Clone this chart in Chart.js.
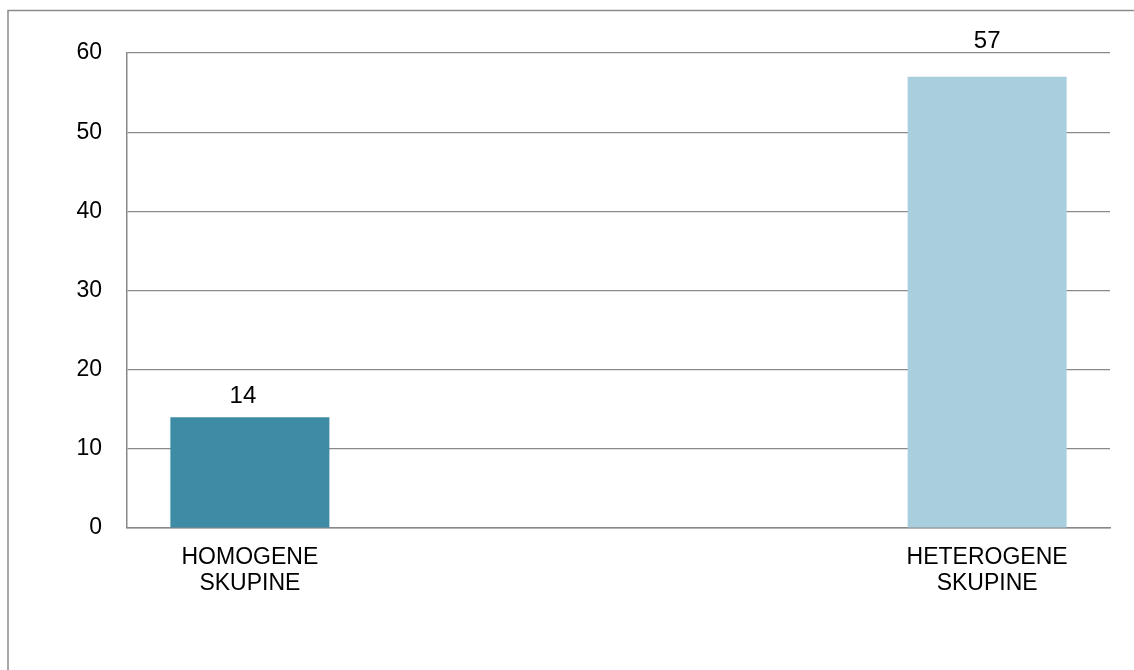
<!DOCTYPE html>
<html>
<head>
<meta charset="utf-8">
<script src="https://cdn.jsdelivr.net/npm/chart.js@4/dist/chart.umd.min.js"></script>
<style>
  html, body { margin: 0; padding: 0; background: #fff; }
  #wrap { width: 1134px; height: 670px; position: relative; }
</style>
</head>
<body>
<div id="wrap"><canvas id="barChart"></canvas></div>
<script>
// categories (two empty slots keep the bars in the 1st and 4th places, like the original)
const categories = [['HOMOGENE', 'SKUPINE'], '', '', ['HETEROGENE', 'SKUPINE']];
const values = [14, null, null, 57];
const barColors = ['#3D8BA4', '#A9CFDE', '#A9CFDE', '#A9CFDE'];
const yTicks = [0, 10, 20, 30, 40, 50, 60];

const FONT = '"Liberation Sans", Arial, sans-serif';

// outer frame (only top and left edge are visible in the picture)
const framePlugin = {
  id: 'frame',
  beforeDraw(chart) {
    const ctx = chart.ctx;
    ctx.save();
    ctx.strokeStyle = '#8c8c8c';
    ctx.lineWidth = 1.5;
    ctx.beginPath();
    ctx.moveTo(8, chart.height);
    ctx.lineTo(8, 10.5);
    ctx.lineTo(chart.width, 10.5);
    ctx.stroke();
    ctx.restore();
  }
};

// value labels above bars
const valueLabels = {
  id: 'valueLabels',
  afterDatasetsDraw(chart, args, opts) {
    const ctx = chart.ctx;
    const meta = chart.getDatasetMeta(0);
    ctx.save();
    ctx.font = '24px ' + FONT;
    ctx.fillStyle = '#000';
    ctx.textAlign = 'center';
    ctx.textBaseline = 'middle';
    meta.data.forEach((bar, i) => {
      const v = values[i];
      if (v === null) return;
      const off = opts.offsets[i] || 24;
      ctx.fillText(String(v), bar.x - (i === 0 ? 7 : 0), bar.y - off);
    });
    ctx.restore();
  }
};

new Chart(document.getElementById('barChart'), {
  type: 'bar',
  data: {
    labels: categories,
    datasets: [{
      data: values,
      backgroundColor: barColors,
      borderWidth: 0,
      barPercentage: 0.647,
      categoryPercentage: 1
    }]
  },
  options: {
    responsive: true,
    maintainAspectRatio: false,
    animation: false,
    layout: { padding: { top: 53, right: 24, left: 0, bottom: 0 } },
    plugins: {
      legend: { display: false },
      tooltip: { enabled: false },
      valueLabels: { offsets: [21, null, null, 35] }
    },
    scales: {
      x: {
        grid: { display: false, drawTicks: false },
        border: { display: true, color: '#888888', width: 1.5 },
        ticks: {
          color: '#000',
          font: { family: FONT, size: 23, lineHeight: 1.13 },
          padding: 17,
          maxRotation: 0,
          autoSkip: false
        },
        afterFit(scale) { scale.height = 142; }
      },
      y: {
        min: 0,
        max: 60,
        afterBuildTicks(scale) { scale.ticks = yTicks.map(v => ({ value: v })); },
        grid: { color: '#8a8a8a', lineWidth: 1.2, drawTicks: false },
        border: { display: true, color: '#888888', width: 1.5 },
        ticks: {
          color: '#000',
          font: { family: FONT, size: 23 },
          padding: 25
        },
        afterFit(scale) { scale.width = 127; }
      }
    }
  },
  plugins: [framePlugin, valueLabels]
});
</script>
</body>
</html>
